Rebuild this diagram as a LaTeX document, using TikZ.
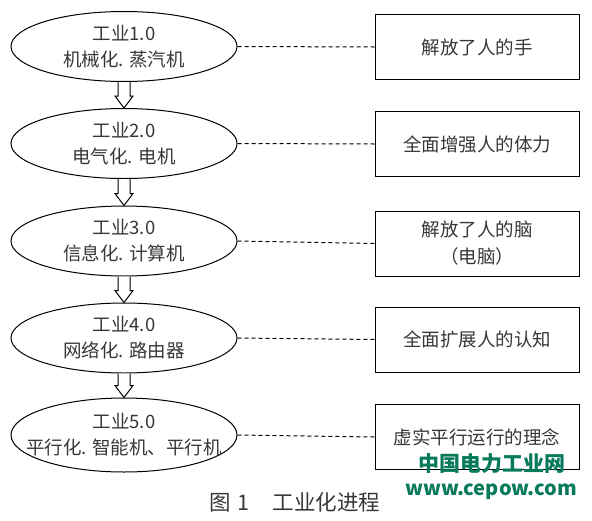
\documentclass[tikz,border=0pt]{standalone}
\usepackage{fontspec}
\setmainfont{Noto Sans CJK SC}
\usetikzlibrary{shapes.geometric,calc}
\definecolor{txt}{RGB}{55,55,55}
\definecolor{wm}{RGB}{8,122,92}
\tikzset{
  stage/.style={ellipse, draw, line width=1pt, minimum width=226pt, minimum height=70pt, inner sep=0pt, align=center, font=\fontsize{18.5}{26}\selectfont, text=txt},
  effect/.style={rectangle, draw, line width=1pt, minimum width=204pt, minimum height=65pt, inner sep=0pt, align=center, font=\fontsize{18.5}{27}\selectfont, text=txt},
  link/.style={dashed, dash pattern=on 4pt off 3pt, line width=1pt},
  hollow/.style={draw, line width=1pt, fill=white, line join=miter},
  watermark/.style={text=wm, font=\bfseries\fontsize{21}{24}\selectfont, inner sep=0pt}
}
\begin{document}
\begin{tikzpicture}[x=1pt,y=-1pt]
\useasboundingbox (0,0) rectangle (592,520);
\node[stage] (e1) at (124,46.5) {工业1.0\\机械化. 蒸汽机};
\node[stage] (e2) at (124,143.5) {工业2.0\\电气化. 电机};
\node[stage] (e3) at (124,241) {工业3.0\\信息化. 计算机};
\node[stage] (e4) at (124,338) {工业4.0\\网络化. 路由器};
\node[stage, minimum height=74pt] (e5) at (124,435) {工业5.0\\\makebox[150pt][c]{平行化. 智能机、平行机}};
\node[effect] (b1) at (477,47) {解放了人的手};
\node[effect] (b2) at (477,144) {全面增强人的体力};
\node[effect] (b3) at (477,243.5) {解放了人的脑\\（电脑）};
\node[effect] (b4) at (477,339.5) {全面扩展人的认知};
\node[effect] (b5) at (477,437) {虚实平行运行的理念};
\foreach \i in {1,...,5} \draw[link] (e\i.east) -- (b\i.west);
\foreach \a/\b in {e1/e2,e2/e3,e3/e4,e4/e5}
  \draw[hollow] ($(\a.south)+(-6,0)$) -- ($(\b.north)+(-6,-12)$) -- ($(\b.north)+(-9,-12)$) -- (\b.north) -- ($(\b.north)+(9,-12)$) -- ($(\b.north)+(6,-12)$) -- ($(\a.south)+(6,0)$);
\node[text=txt, font=\fontsize{21.5}{24}\selectfont, inner sep=0pt] (cap) at (295,502) {图\hspace{6pt}1\hspace{24pt}工业化进程};
\node[watermark] (wm1) at (492,464) {中国电力工业网};
\node[watermark, font=\bfseries\fontsize{20}{24}\selectfont] (wm2) at (491,492) {www.cepow.com};
\end{tikzpicture}
\end{document}
